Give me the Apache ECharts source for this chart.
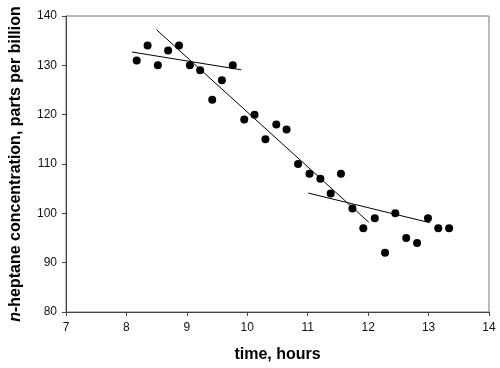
<!DOCTYPE html>
<html><head><meta charset="utf-8">
<script src="https://cdn.jsdelivr.net/npm/echarts@6/dist/echarts.min.js"></script>
<style>html,body{margin:0;padding:0;background:#fff}#c{width:500px;height:368px}</style>
</head><body><div id="c"></div>
<script>
var times = [8.17,8.35,8.52,8.69,8.87,9.05,9.22,9.42,9.58,9.76,9.95,10.12,10.30,10.48,10.65,10.84,11.03,11.21,11.38,11.55,11.74,11.92,12.11,12.28,12.45,12.63,12.81,12.99,13.16,13.34];
var conc  = [131,134,130,133,134,130,129,123,127,130,119,120,115,118,117,110,108,107,104,108,101,97,99,92,100,95,94,99,97,97];
var fit1 = [[8.09,132.7],[9.90,129.1]];
var fit2 = [[8.50,137.2],[12.01,98.2]];
var fit3 = [[11.01,104.1],[13.02,98.1]];
var xTicks = [7,8,9,10,11,12,13,14];
var yTicks = [80,90,100,110,120,130,140];

var pts = times.map(function(t,i){return [t,conc[i]];});
var font = "'Liberation Sans', Arial, sans-serif";
function lineSeries(d){return {type:'line',data:d,symbol:'none',silent:true,lineStyle:{color:'#000',width:1},z:3};}
var chart = echarts.init(document.getElementById('c'));
chart.setOption({
  animation:false,
  grid:{left:64,right:11,top:16,bottom:55,show:true,borderColor:'#777',borderWidth:1},
  xAxis:{type:'value',min:xTicks[0],max:xTicks[xTicks.length-1],interval:1,
    name:'time, hours',nameLocation:'middle',nameGap:35,
    nameTextStyle:{fontFamily:font,fontSize:16,fontWeight:'bold',color:'#000'},
    axisLine:{lineStyle:{color:'#444'}},axisTick:{show:true,length:4,lineStyle:{color:'#444'}},
    axisLabel:{fontFamily:font,fontSize:12,color:'#111',margin:10},
    splitLine:{show:false}},
  yAxis:{type:'value',min:yTicks[0],max:yTicks[yTicks.length-1],interval:10,
    name:'{i|n}-heptane concentration, parts per billion',nameLocation:'middle',nameGap:42,
    nameTextStyle:{fontFamily:font,fontSize:16,fontWeight:'bold',color:'#000',
      rich:{i:{fontFamily:font,fontSize:16,fontWeight:'bold',fontStyle:'italic',color:'#000'}}},
    axisLine:{show:true,lineStyle:{color:'#444'}},axisTick:{show:true,length:4,lineStyle:{color:'#444'}},
    axisLabel:{fontFamily:font,fontSize:12,color:'#111',margin:9},
    splitLine:{show:false}},
  series:[
    {type:'scatter',data:pts,symbol:'circle',symbolSize:8,itemStyle:{color:'#000',opacity:1},z:4},
    lineSeries(fit1),lineSeries(fit2),lineSeries(fit3)
  ]
});
</script></body></html>
